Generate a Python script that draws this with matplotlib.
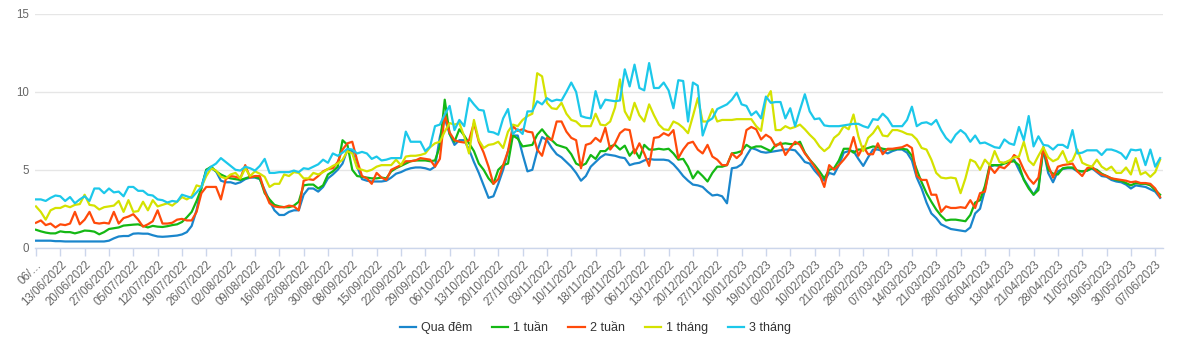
import numpy as np
import matplotlib.pyplot as plt

# nhãn trục x (mỗi 5 phiên)
tick_labels = ["06/…", "13/06/2022", "20/06/2022", "27/06/2022", "05/07/2022", "12/07/2022",
               "19/07/2022", "26/07/2022", "02/08/2022", "09/08/2022", "16/08/2022", "23/08/2022",
               "30/08/2022", "08/09/2022", "15/09/2022", "22/09/2022", "29/09/2022", "06/10/2022",
               "13/10/2022", "20/10/2022", "27/10/2022", "03/11/2022", "10/11/2022", "18/11/2022",
               "28/11/2022", "06/12/2022", "13/12/2022", "20/12/2022", "27/12/2022", "10/01/2023",
               "19/01/2023", "02/02/2023", "10/02/2023", "21/02/2023", "28/02/2023", "07/03/2023",
               "14/03/2023", "21/03/2023", "28/03/2023", "05/04/2023", "13/04/2023", "21/04/2023",
               "28/04/2023", "11/05/2023", "19/05/2023", "30/05/2023", "07/06/2023"]

qua_dem = [
    0.45, 0.45, 0.45, 0.45, 0.42, 0.42, 0.4, 0.4, 0.4, 0.4, 0.4, 0.4, 0.4, 0.4, 0.4,
    0.45, 0.6, 0.72, 0.75, 0.75, 0.9, 0.92, 0.9, 0.9, 0.8, 0.72, 0.7, 0.72, 0.75, 0.78,
    0.85, 1.0, 1.4, 2.4, 3.9, 5.0, 5.1, 4.9, 4.3, 4.2, 4.2, 4.1, 4.2, 4.4, 4.5,
    4.5, 4.4, 3.7, 3.0, 2.4, 2.1, 2.1, 2.3, 2.4, 2.4, 3.4, 3.8, 3.8, 3.6, 3.9,
    4.45, 4.7, 5.0, 5.4, 6.3, 6.2, 5.2, 4.4, 4.3, 4.25, 4.25, 4.25, 4.3, 4.5, 4.75,
    4.85, 5.0, 5.1, 5.15, 5.15, 5.1, 5.0, 5.2, 7.1, 8.3, 7.3, 6.6, 6.9, 6.9, 6.3,
    5.5, 4.8, 4.0, 3.2, 3.3, 4.1, 5.0, 6.2, 7.2, 7.2, 6.0, 4.9, 5.0, 6.2, 7.1,
    6.9, 6.4, 6.0, 5.8, 5.5, 5.2, 4.8, 4.3, 4.6, 5.2, 5.5, 5.8, 6.0, 5.95, 5.9,
    5.8, 5.75, 5.3, 5.4, 5.45, 5.6, 5.7, 5.65, 5.65, 5.65, 5.6, 5.35, 5.0, 4.6, 4.3,
    4.05, 4.0, 3.9, 3.6, 3.35, 3.4, 3.3, 2.85, 5.1, 5.15, 5.35, 5.9, 6.4, 6.3, 6.15,
    6.1, 6.15, 6.2, 6.25, 6.3, 6.3, 6.25, 5.9, 5.5, 5.4, 4.95, 4.6, 4.3, 4.8, 4.7,
    5.3, 6.1, 6.2, 6.2, 5.7, 5.25, 5.8, 6.3, 6.3, 6.2, 6.05, 6.2, 6.3, 6.3, 6.1,
    5.6, 4.5, 3.8, 2.9, 2.2, 1.9, 1.5, 1.35, 1.2, 1.15, 1.1, 1.05, 1.3, 2.2, 2.5,
    3.7, 5.2, 5.3, 5.25, 5.45, 5.55, 5.65, 5.0, 4.4, 3.9, 3.4, 3.9, 6.3, 4.8, 4.2,
    4.9, 5.05, 5.1, 5.1, 4.9, 4.9, 4.95, 5.1, 4.85, 4.6, 4.55, 4.35, 4.25, 4.2, 4.05,
    3.8, 4.0, 3.95, 3.9, 3.75, 3.6, 3.2]

mot_tuan = [
    1.15, 1.05, 0.97, 0.92, 0.92, 1.05, 1.0, 1.0, 0.92, 1.0, 1.1, 1.08, 1.03, 0.86, 1.0,
    1.2, 1.25, 1.3, 1.42, 1.45, 1.48, 1.5, 1.4, 1.3, 1.4, 1.35, 1.33, 1.38, 1.45, 1.5,
    1.65, 1.95, 2.3, 3.0, 3.8, 5.0, 5.2, 4.9, 4.7, 4.55, 4.45, 4.4, 4.35, 4.45, 4.55,
    4.55, 4.45, 3.5, 3.1, 2.75, 2.65, 2.6, 2.6, 2.7, 2.95, 4.0, 4.05, 4.05, 3.8, 4.0,
    4.7, 4.9, 5.2, 6.9, 6.6, 5.0, 4.6, 4.55, 4.5, 4.45, 4.45, 4.5, 4.45, 4.9, 5.1,
    5.25, 5.4, 5.55, 5.6, 5.6, 5.6, 5.55, 5.6, 6.5, 9.5, 7.3, 6.8, 7.6, 7.2, 6.7,
    6.2, 5.4, 5.0, 4.45, 4.1, 5.0, 5.3, 5.4, 7.2, 7.0, 6.5, 6.55, 6.6, 7.25, 7.6,
    7.2, 6.9, 6.6, 6.5, 6.4, 6.0, 5.4, 5.25, 5.4, 5.95, 5.7, 6.2, 6.2, 6.5, 6.6,
    6.3, 6.55, 5.9, 6.3, 5.75, 6.6, 6.3, 6.3, 6.35, 6.3, 6.35, 6.05, 5.65, 5.7, 5.2,
    4.45, 4.9, 4.6, 4.25, 4.8, 5.2, 5.2, 5.3, 6.05, 6.1, 6.2, 6.6, 6.4, 6.5, 6.5,
    6.35, 6.2, 6.6, 6.65, 6.7, 6.65, 6.65, 6.8, 6.1, 5.65, 5.3, 4.9, 4.45, 5.0, 5.1,
    5.6, 6.35, 6.35, 6.1, 6.3, 6.3, 6.4, 6.5, 6.45, 6.35, 6.3, 6.3, 6.35, 6.35, 6.3,
    5.9, 5.0, 4.2, 3.5, 2.95, 2.45, 2.05, 1.75, 1.8, 1.8, 1.75, 1.7, 2.1, 2.9, 3.05,
    3.95, 5.3, 5.3, 5.3, 5.4, 5.5, 5.55, 5.3, 4.35, 3.8, 3.4, 3.7, 6.45, 5.0, 4.75,
    4.7, 5.1, 5.15, 5.15, 4.95, 4.9, 4.95, 5.1, 5.0, 4.75, 4.6, 4.45, 4.35, 4.3, 4.15,
    4.0, 4.15, 4.1, 4.1, 4.0, 3.7, 3.4]

hai_tuan = [
    1.6, 1.75, 1.45, 1.55, 1.3, 1.5, 1.45, 1.55, 2.3, 1.5, 1.8, 2.3, 1.6, 1.55, 1.6,
    1.55, 2.3, 1.55, 1.9, 2.0, 2.15, 1.8, 1.35, 1.5, 1.7, 2.4, 1.55, 1.55, 1.6, 1.8,
    1.85, 1.75, 1.75, 2.3, 3.5, 3.9, 3.9, 3.9, 3.1, 4.4, 4.6, 4.55, 4.45, 5.3, 4.5,
    4.6, 4.6, 3.6, 2.85, 2.65, 2.6, 2.6, 2.7, 2.65, 2.4, 4.3, 4.4, 4.35, 4.6, 4.9,
    5.05, 5.1, 5.5, 6.3, 6.7, 6.8, 5.6, 4.6, 4.45, 4.1, 4.8, 4.5, 4.35, 5.0, 5.15,
    5.3, 5.55, 5.55, 5.6, 5.75, 5.7, 5.65, 5.2, 5.7, 8.55, 7.4, 6.9, 6.8, 6.75, 6.9,
    8.0, 6.8, 6.1, 5.2, 4.1, 4.4, 5.3, 6.2, 7.8, 7.5, 7.6, 7.45, 7.4, 6.3, 5.9,
    7.05, 6.9, 8.1, 8.1, 7.45, 7.05, 6.9, 5.1, 6.6, 6.7, 7.05, 6.8, 7.7, 6.3, 6.7,
    7.35, 7.6, 7.55, 6.05, 6.7, 6.05, 5.25, 7.05, 7.1, 7.35, 7.2, 7.55, 5.75, 6.3, 6.7,
    6.8, 6.3, 6.05, 6.6, 5.85, 5.65, 5.3, 5.3, 6.05, 5.75, 6.05, 7.55, 7.75, 7.6, 6.95,
    7.25, 7.05, 6.5, 6.75, 5.95, 6.4, 6.8, 6.6, 6.05, 5.65, 5.2, 4.7, 3.9, 5.3, 5.0,
    5.3, 5.65, 6.05, 7.1, 5.9, 6.5, 6.0, 6.0, 6.7, 6.0, 6.35, 6.35, 6.4, 6.45, 6.6,
    6.4, 4.6, 4.35, 4.35, 3.4, 3.4, 2.3, 2.65, 2.55, 2.55, 2.6, 2.55, 3.05, 2.55, 3.5,
    3.6, 5.2, 4.8, 5.2, 5.1, 5.4, 5.95, 5.7, 5.0, 4.45, 4.1, 4.5, 6.4, 5.3, 4.5,
    5.2, 5.3, 5.35, 5.4, 4.9, 4.6, 5.1, 5.2, 4.9, 4.7, 4.6, 4.45, 4.4, 4.35, 4.3,
    4.2, 4.25, 4.15, 4.15, 4.1, 3.8, 3.25]

mot_thang = [
    2.65, 2.3, 1.8, 2.4, 2.55, 2.55, 2.7, 2.6, 2.75, 2.8, 3.4, 2.75, 2.7, 2.45, 2.6,
    2.65, 2.7, 3.0, 2.3, 3.05, 2.3, 2.35, 2.95, 2.4, 3.05, 2.65, 2.75, 2.85, 2.7, 2.95,
    3.25, 3.1, 3.3, 4.0, 3.9, 4.6, 5.1, 4.95, 4.55, 4.45, 4.7, 4.8, 4.45, 5.1, 4.6,
    4.9, 4.75, 4.55, 3.9, 4.1, 4.1, 4.7, 4.6, 4.85, 4.8, 4.45, 4.45, 4.8, 4.7, 4.85,
    5.05, 5.25, 5.4, 5.65, 6.2, 6.05, 5.1, 5.0, 4.9, 5.0, 5.2, 5.3, 5.3, 5.3, 5.65,
    5.3, 5.85, 5.9, 5.9, 5.95, 6.05, 6.45, 6.7, 6.8, 7.45, 8.0, 7.9, 8.0, 7.15, 6.05,
    8.2, 6.9, 6.4, 6.6, 6.65, 6.8, 6.4, 7.45, 7.9, 7.8, 8.2, 8.45, 8.6, 11.2, 11.0,
    9.3, 8.95, 8.9, 9.3, 8.6, 8.2, 8.1, 7.8, 7.8, 7.8, 8.6, 7.9, 7.85, 8.1, 9.0,
    10.8, 8.75, 8.2, 9.3, 8.5, 8.1, 9.2, 8.5, 7.9, 7.6, 7.55, 8.1, 7.95, 7.7, 7.35,
    8.45, 9.6, 8.1, 8.1, 8.9, 8.1, 8.2, 8.2, 8.2, 8.25, 8.25, 8.25, 8.25, 7.8, 7.5,
    9.5, 10.05, 7.55, 7.55, 7.8, 7.65, 7.75, 7.9, 7.6, 7.25, 6.95, 6.5, 6.2, 6.45, 7.05,
    7.3, 7.8, 7.6, 8.55, 7.15, 6.2, 7.05, 7.35, 7.8, 7.2, 7.15, 7.55, 7.55, 7.45, 7.3,
    7.25, 6.95, 6.4, 6.3, 5.65, 4.8, 4.5, 4.45, 4.5, 4.45, 3.5, 4.45, 5.65, 5.5, 5.0,
    5.65, 5.3, 6.2, 5.5, 5.45, 5.6, 5.8, 5.85, 6.8, 5.6, 5.3, 5.9, 6.45, 5.8, 5.55,
    5.7, 6.2, 5.45, 5.6, 6.3, 5.45, 5.3, 5.2, 5.65, 5.2, 5.0, 5.2, 4.8, 4.8, 5.15,
    4.7, 5.75, 4.7, 4.85, 4.55, 4.85, 5.65]

ba_thang = [
    3.1, 3.1, 3.0, 3.2, 3.35, 3.3, 3.0, 3.25, 2.85, 3.1, 3.3, 3.0, 3.8, 3.8, 3.5,
    3.8, 3.55, 3.6, 3.3, 3.9, 3.9, 3.65, 3.65, 3.4, 3.35, 3.1, 3.05, 2.9, 3.0, 2.95,
    3.4, 3.3, 3.2, 3.55, 3.9, 4.9, 5.2, 5.4, 5.75, 5.5, 5.25, 5.0, 4.95, 5.2, 5.1,
    4.95, 5.25, 5.7, 4.8, 4.8, 4.85, 4.85, 4.85, 4.95, 4.85, 5.1, 5.05, 5.2, 5.35, 5.65,
    5.45, 6.05, 5.9, 6.1, 6.35, 6.3, 6.05, 6.15, 6.05, 5.7, 5.85, 5.6, 5.65, 5.75, 5.75,
    5.75, 7.45, 6.8, 6.8, 6.8, 6.2, 6.5, 7.8, 7.9, 8.55, 9.1, 7.55, 8.2, 7.8, 9.6,
    9.2, 8.85, 8.8, 7.45, 7.4, 7.25, 8.3, 8.9, 7.3, 7.6, 7.3, 8.75, 8.75, 9.4, 9.2,
    9.6, 9.4, 9.5, 9.45, 10.0, 10.6, 10.0, 8.45, 8.35, 8.3, 10.05, 8.95, 9.5, 9.45, 9.4,
    9.45, 11.45, 10.35, 11.75, 10.25, 10.1, 11.85, 10.25, 10.25, 10.6, 10.1, 8.95, 10.75, 10.7, 8.1,
    10.6, 10.4, 7.2, 8.1, 8.3, 8.9, 9.05, 9.2, 9.5, 9.95, 9.2, 9.1, 8.5, 8.75, 8.3,
    9.7, 9.3, 9.35, 9.35, 8.3, 8.95, 7.8, 8.85, 9.85, 8.75, 8.25, 8.3, 7.85, 7.8, 7.8,
    7.8, 7.85, 7.9, 7.95, 7.95, 7.8, 7.7, 8.25, 8.2, 8.6, 8.3, 7.8, 7.8, 7.8, 8.2,
    9.05, 7.8, 8.0, 8.05, 7.9, 8.2, 7.55, 7.05, 6.75, 7.25, 7.55, 7.3, 6.8, 7.2, 6.7,
    6.75, 6.6, 6.45, 6.4, 6.95, 6.7, 6.6, 7.75, 6.9, 8.45, 6.5, 7.15, 6.6, 6.55, 6.3,
    6.6, 6.6, 6.4, 7.55, 6.05, 6.1, 6.25, 6.25, 6.25, 5.95, 6.3, 6.3, 6.2, 6.05, 5.7,
    6.3, 6.25, 6.3, 5.3, 6.3, 5.2, 5.75]

series = [("Qua đêm", qua_dem, "#1a86cc"),
          ("1 tuần", mot_tuan, "#14b814"),
          ("2 tuần", hai_tuan, "#ff4a0a"),
          ("1 tháng", mot_thang, "#d4e200"),
          ("3 tháng", ba_thang, "#1cc8ea")]

plt.rcParams['font.family'] = ['Liberation Sans', 'DejaVu Sans']

fig = plt.figure(figsize=(11.91, 3.53), dpi=100)
ax = fig.add_axes([35 / 1191, 1 - 247.7 / 353, (1163 - 35) / 1191, (247.7 - 14) / 353])

for k, (name, vals, col) in enumerate(series):
    ax.plot(np.arange(len(vals)), vals, color=col, lw=1.6, label=name, zorder=2 + k,
            solid_joinstyle='round')

ax.set_ylim(0, 15)
ax.set_xlim(-0.2, 231.6)
ax.set_yticks([0, 5, 10, 15])
ax.grid(axis='y', color='#e6e6e6', lw=1)
ax.set_axisbelow(True)
for s in ['top', 'right', 'left']:
    ax.spines[s].set_visible(False)
ax.spines['bottom'].set_color('#ccd6eb')
ax.spines['bottom'].set_linewidth(1)

ax.set_xticks(np.arange(len(tick_labels)) * 5)
ax.set_xticklabels(tick_labels, rotation=45, ha='right', rotation_mode='anchor')
ax.tick_params(axis='x', colors='#666666', labelsize=8.3, length=6, width=1,
               color='#ccd6eb', pad=2)
ax.tick_params(axis='y', colors='#666666', labelsize=8.3, length=0, pad=4)

fig.legend(loc='center', bbox_to_anchor=(0.5, 1 - 328 / 353), ncol=5, frameon=False,
           fontsize=9, handlelength=1.3, handletextpad=0.4, columnspacing=1.6,
           labelcolor='#333333')

fig.savefig("out.png", dpi=100)
